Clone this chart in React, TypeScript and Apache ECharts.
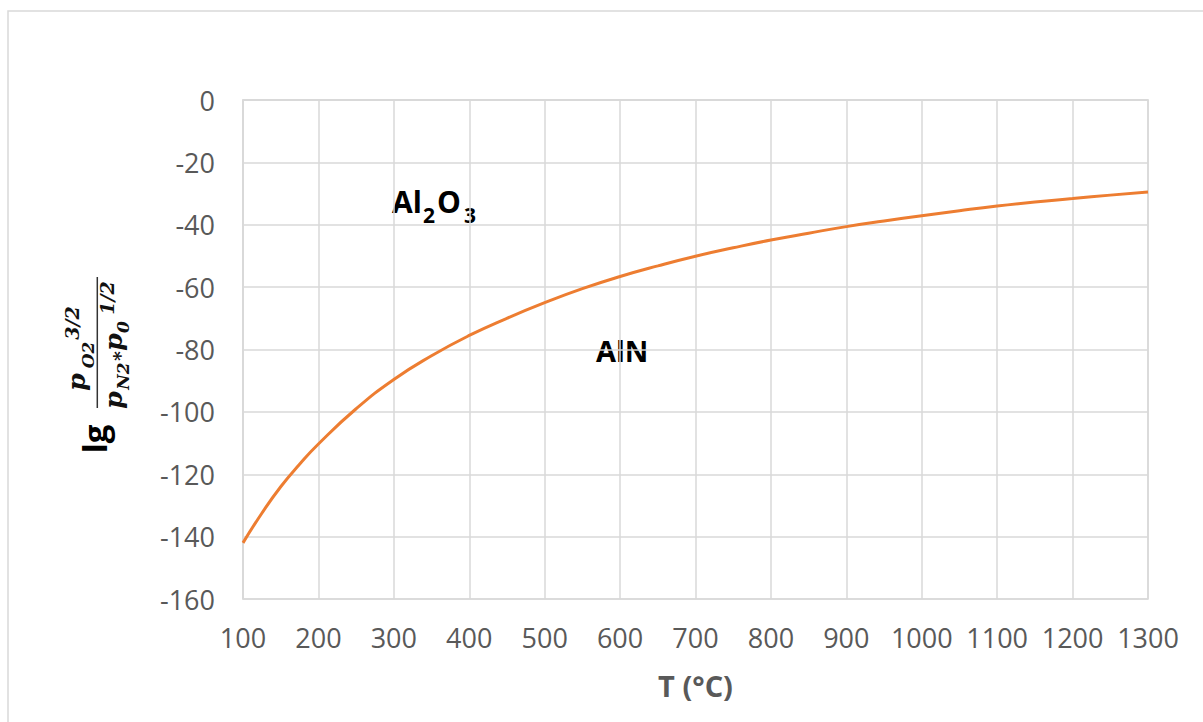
import React, { useEffect, useRef } from "react";
import * as echarts from "echarts";

const temperatures = [100, 125, 150, 175, 200, 250, 300, 350, 400, 450, 500, 550, 600, 650, 700, 750, 800, 850, 900, 950, 1000, 1050, 1100, 1150, 1200, 1250, 1300];
const lgValues = [-142, -132.5, -124, -116.8, -110.3, -99, -89.6, -82, -75.5, -70, -65, -60.5, -56.6, -53.2, -50.1, -47.4, -44.9, -42.7, -40.6, -38.8, -37.1, -35.5, -34.0, -32.7, -31.6, -30.5, -29.5];
const xAxisTitle = "T (°C)";
const regionLabels = ["AlN"];

const SANS = "'Open Sans', 'Liberation Sans', sans-serif";
const SERIF = "'DejaVu Serif', 'Liberation Serif', serif";

export default function App() {
  const ref = useRef<HTMLDivElement>(null);
  useEffect(() => {
    if (!ref.current) return;
    const chart = echarts.init(ref.current, null, { renderer: "svg" });
    const m = (text: string, x: number, y: number, size: number) => ({
      type: "text",
      x,
      y,
      style: {
        text,
        fill: "#111",
        font: `italic bold ${size}px ${SERIF}`,
        align: "center",
        verticalAlign: "middle",
      },
    });
    chart.setOption({
      animation: false,
      backgroundColor: "#ffffff",
      grid: {
        left: 243,
        right: 55,
        top: 100,
        bottom: 123,
        show: true,
        borderColor: "#d9d9d9",
        borderWidth: 1.5,
      },
      xAxis: {
        type: "value",
        min: 100,
        max: 1300,
        interval: 100,
        name: xAxisTitle,
        nameLocation: "middle",
        nameGap: 72,
        nameTextStyle: { fontFamily: SANS, fontSize: 29, fontWeight: "bold", color: "#595959" },
        axisLine: { show: true, lineStyle: { color: "#d9d9d9", width: 1.5 } },
        axisTick: { show: false },
        axisLabel: {
          fontFamily: SANS,
          fontSize: 27,
          color: "#595959",
          margin: 25,
          formatter: (v: number) => String(v),
        },
        splitLine: { show: true, lineStyle: { color: "#d9d9d9", width: 1.5 } },
      },
      yAxis: {
        type: "value",
        min: -160,
        max: 0,
        interval: 20,
        axisLine: { show: true, lineStyle: { color: "#d9d9d9", width: 1.5 } },
        axisTick: { show: false },
        axisLabel: {
          fontFamily: SANS,
          fontSize: 27,
          color: "#595959",
          margin: 28,
          formatter: (v: number) => String(v),
        },
        splitLine: { show: true, lineStyle: { color: "#d9d9d9", width: 1.5 } },
      },
      series: [
        {
          type: "line",
          data: temperatures.map((x, i) => [x, lgValues[i]]),
          smooth: 0.5,
          showSymbol: false,
          lineStyle: { color: "#ED7D31", width: 3 },
        },
      ],
      graphic: [
        {
          type: "rect",
          x: 8,
          y: 11,
          shape: { width: 1400, height: 900 },
          style: { fill: "none", stroke: "#d9d9d9", lineWidth: 1.5 },
          silent: true,
        },
        // Al2O3
        { type: "text", x: 392, y: 216, style: { text: "Al", font: `bold 30px ${SANS}`, fill: "#000", verticalAlign: "bottom" } },
        { type: "text", x: 423, y: 225, style: { text: "2", font: `bold 21px ${SANS}`, fill: "#000", verticalAlign: "bottom" } },
        { type: "text", x: 437, y: 216, style: { text: "O", font: `bold 30px ${SANS}`, fill: "#000", verticalAlign: "bottom" } },
        { type: "text", x: 464, y: 225, style: { text: "3", font: `bold 21px ${SANS}`, fill: "#000", verticalAlign: "bottom" } },
        // AlN
        { type: "text", x: 596, y: 365, style: { text: regionLabels[0], font: `bold 29px ${SANS}`, fill: "#000", verticalAlign: "bottom" } },
        // Y axis title (rotated 90° counter-clockwise)
        {
          type: "group",
          x: 97.3,
          y: 455,
          rotation: Math.PI / 2,
          children: [
            {
              type: "text",
              x: 16,
              y: -3,
              style: { text: "lg", font: `bold 33px ${SANS}`, fill: "#000", align: "center", verticalAlign: "middle" },
            },
            { type: "line", shape: { x1: 47, y1: 0, x2: 178, y2: 0 }, style: { stroke: "#333", lineWidth: 1.5 } },
            // numerator p_O2^{3/2}
            m("p", 73, -21, 25),
            m("O2", 100, -9, 17),
            m("3/2", 132, -25, 19),
            // denominator p_N2 * p_0^{1/2}
            m("p", 55, 16, 25),
            m("N2", 79, 26, 17),
            m("*", 99, 23, 19),
            m("p", 113, 16, 25),
            m("0", 128, 26, 17),
            m("1/2", 157, 10, 19),
          ],
        },
      ],
    });
    return () => chart.dispose();
  }, []);
  return (
    <div
      ref={ref}
      style={{ position: "fixed", left: 0, top: 0, width: 1203, height: 722 }}
    />
  );
}
